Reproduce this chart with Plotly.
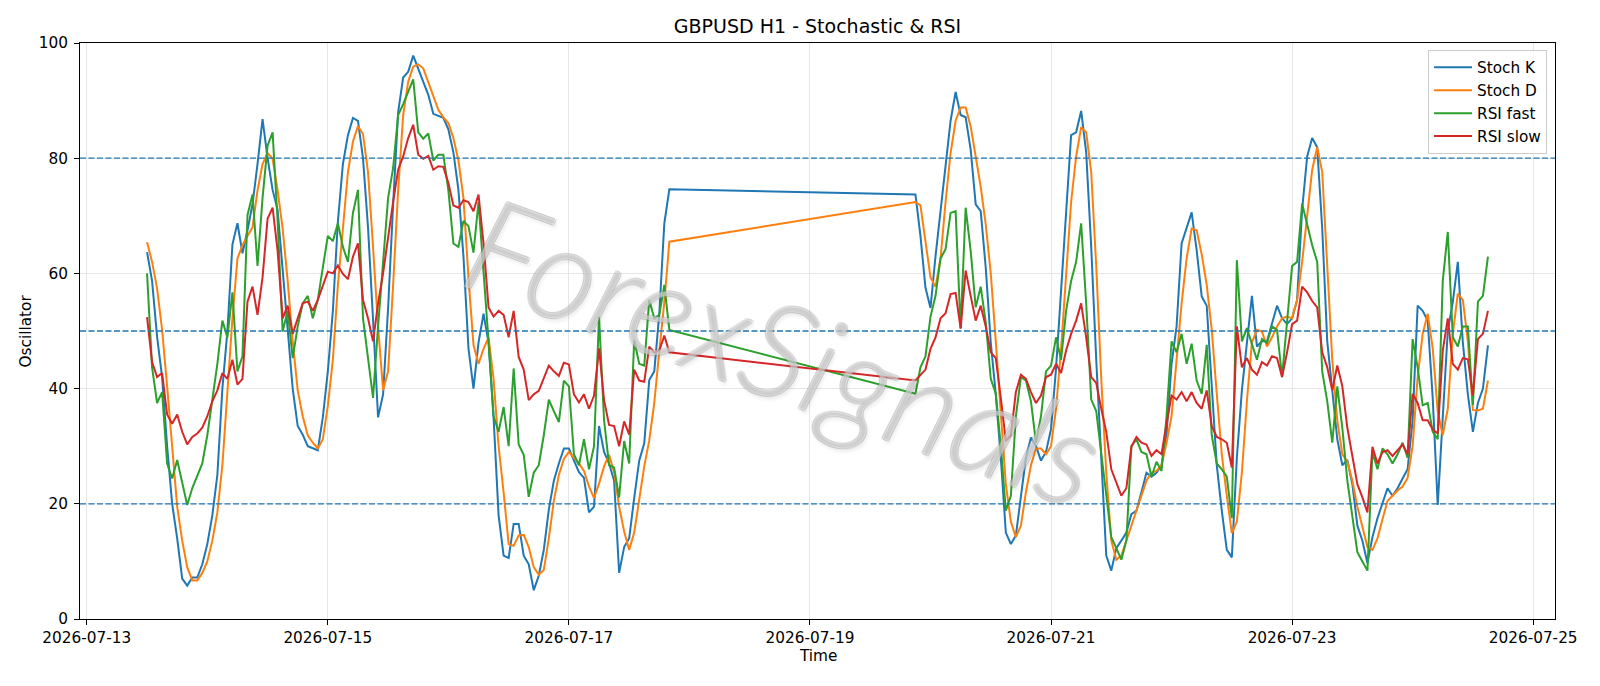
import pandas as pd
import plotly.graph_objects as go

# ---- time axis: hourly bars, weekend gap ----
seg1_start = "2026-07-13 12:00"
seg2_start = "2026-07-19 21:00"

# ---- Stochastic K ----
stoch_k_1 = [63.7, 58.7, 49, 42, 30, 20, 14, 7, 5.8, 7.2, 7.2, 9.5, 13, 18, 25, 40, 50, 65, 68.7, 63.5,
             67.5, 72, 79, 86.8, 80, 74.5, 71, 61, 50, 40, 33.5, 32, 30, 29.6, 29.3, 35, 43,
             53.5, 69, 79, 84, 87, 86.5, 80, 68, 52, 35, 39, 54, 72, 88, 94, 95, 97.8, 95.5, 93, 91,
             87.7, 87.4, 87, 85, 81, 74.5, 63, 47, 40, 48, 53, 48, 35, 18, 11, 10.6,
             16.5, 16.5, 11, 9.5, 5, 7.5, 12, 19, 24, 27, 29.6, 29.6, 27.5, 25.5, 24.5, 18.5, 19.5,
             33.5, 29, 27, 24, 8, 12.5, 14, 21, 27.5, 30.5, 41.5, 43, 53, 68.7, 74.6]
stoch_k_2 = [73.7, 66.5, 57.5, 54, 63, 71, 79, 86.5, 91.5, 87.5, 87.1, 81.5, 72, 70.8, 61, 48, 39, 28,
             15, 13, 14.5, 21, 28, 31.5, 30, 27.5, 29, 33, 43.5, 57, 70, 84, 84.5, 88.2,
             81, 64.6, 45, 27.3, 11, 8.4, 12.3, 13.6, 15, 18.2, 18.8, 22, 25.4, 24.7, 25.4, 26.7, 32,
             44.3, 50.8, 65.2, 67.8, 70.6, 64, 56, 54.4, 40.4, 26.7, 18.8, 12, 10.7, 28, 39.7, 48.2,
             56.1, 47.3,
             48.2, 48.2, 51.5, 54.4, 52.2, 51.2, 52.2, 55.4, 71.1, 80.3, 83.5, 81.9, 67.8, 48.2, 39.7,
             31.2, 26.7, 27.6, 23.4, 16.2, 13.6, 9.7, 14.2, 17.5, 20.1, 22.7, 21.4, 22.7, 24.4, 26,
             34.5, 54.4, 53.5, 51.8, 38.4, 19.8, 35, 50, 55, 62, 48, 39, 32.5, 37.5, 40, 47.5]

# ---- Stochastic D ----
stoch_d_1 = [65.4, 62, 57.4, 50.2, 40.4, 29.3, 19.5, 13.6, 9, 6.7, 6.7, 8, 10, 13.6, 18.5, 26.7, 39.7,
             52.2, 62.6, 64.9, 66.5, 68, 74.4, 79, 80.9, 79.9, 74.4, 67.8, 58.7, 48.2, 39.7, 35.2, 31.9,
             30.6, 29.6, 31.2, 37,
             45, 58, 67.8, 77.6, 82.9, 85.6, 84.2, 77.6, 64.6, 50.8, 39.7, 43, 58, 74.4, 87.5, 93.3,
             95.9, 96.3, 95.6, 93.3, 90.7, 88.4, 87.1, 86.1, 83.5, 79.6, 73.1, 59.3, 47.6, 44.3, 46.9,
             48.9, 41.7, 30, 22, 13,
             12.7, 14.5, 14.6, 12.5, 9, 7.7, 8.5, 14, 20.5, 25, 27.8, 29, 28, 27, 25.7, 23, 21, 23.5,
             26.5, 28.5, 25.5, 19.5, 15.2, 12, 15, 20.5, 26.5, 31, 37.5, 46.5, 55, 65.5]
stoch_d_2 = [72.4, 71.8, 65.2, 59.3, 57.7, 62.6, 72.4, 80.9, 86.5, 88.8, 88.8, 85.5, 80.3, 75, 68.5, 60,
             48.2, 35.2, 23.4, 16.9, 14.2, 16.2, 22, 26.7, 29.6, 29.6, 28.6, 30, 36.5, 46.9, 60, 72.4,
             80.3, 85.4,
             84.5, 77.6, 61.3, 41.7, 25.4, 13.6, 10.3, 11, 13.6, 16.2, 18.8, 21.4, 24, 25.4, 25.7, 26.7,
             30.6, 35.2, 45, 54.8, 62.6, 67.8, 67.5, 63.3, 58, 50.2, 39.1, 28.6, 21.4, 14.9, 16.9, 25.4,
             37.8, 48, 50.2,
             49.9, 47.3, 48.9, 50.8, 52.2, 52.5, 52.2, 55.4, 62, 70, 78, 81.9, 77.6, 61.3, 45, 34.5,
             28.6, 27.3, 24, 19.5, 16.2, 12.5, 12, 14, 17.3, 20.5, 21.4, 22.3, 23, 24.5, 30, 42, 49.5,
             53, 47, 36, 31.9, 36.5, 49.5, 56.5, 55.4, 48.2, 36.3, 36.2, 36.5, 41.4]

# ---- RSI fast ----
rsi_fast_1 = [60, 43.7, 37.5, 39.4, 27, 24.4, 27.6, 23.7, 19.8, 22.7, 24.7, 27, 31.9, 38.4, 44.3, 51.8,
              48.9, 56.7, 43, 45.6, 70.1, 73.7, 61.3, 73.1, 82.2, 84.5, 69.1, 49.9, 53.5, 45.3, 50.8,
              54.8, 56.1, 52.2, 55.4, 61, 66.5,
              65.6, 68.7, 64.6, 62, 70.5, 74.5, 52.2, 45, 38.4, 50.8, 61.3, 73.1, 78.3, 87.5, 89.4,
              91.4, 93.7, 84.5, 83.4, 84.3, 79.6, 80.6, 80.6, 74.4, 65.2, 64.6, 69.1, 68.2, 63.6, 72.4,
              60.7, 48.2, 35.2, 32.5, 36.8, 30,
              43.5, 30.3, 28.5, 21.2, 25.4, 26.7, 31.9, 38.1, 36.1, 34.2, 41.4, 40.4, 28.6, 26.7, 31.2,
              26, 30, 52.5, 34.5, 26.7, 26.3, 21.1, 30.9, 27, 48.4, 44.3, 44, 55.4, 52.2, 52.8, 58, 50.2]
rsi_fast_2 = [39.1, 43.7, 45.6, 52.5, 56.1, 62.6, 64.2, 70.5, 70.8, 50.5, 71.4, 63.9, 54.1, 57.7, 51.5,
              41.7, 39.1, 30, 18.8, 21.4, 35.2, 42, 41.4, 37.8, 30.6, 35.2, 43, 44, 48.9, 45, 53.5, 58.7,
              62, 68.7,
              54.8, 38.1, 36.1, 28.6, 22, 14.2, 12.3, 10.3, 13.6, 30, 31.2, 29, 28.6, 24.7, 27.3, 25.7,
              35.2, 48.2, 46.3, 49.5, 44.3, 47.8, 41.4, 39.1, 47.6, 31.9, 27, 26, 24.7, 17.5, 62.3, 48.2,
              50.5, 47.6, 45,
              48.6, 47.9, 50.8, 50.2, 42, 51, 61.3, 62, 72.1, 68.5, 64.9, 62, 43, 37.8, 30.6, 40.4, 33.2,
              24, 17.5, 11.6, 10, 8.4, 29, 26, 29.6, 28.6, 27, 28.6, 30.6, 28, 48.6, 43.7, 37.1, 37.5,
              32.5, 31.2, 58.7, 67.2, 48.9, 47.3, 50.8, 50.8, 37.1, 55.1, 56.1, 62.9]

# ---- RSI slow ----
rsi_slow_1 = [52.4, 44.6, 42, 42.7, 35.5, 33.9, 35.5, 32.5, 30.3, 31.6, 32.2, 33.2, 35.2, 37.8, 39.7,
              42.7, 41.7, 45, 40.7, 41.7, 55.1, 57.7, 52.8, 59.3, 69.5, 71.4, 63.9, 52.2, 54.4, 49.5,
              52.2, 54.8, 55.1, 53.5, 55.4, 57.7, 60.3,
              60, 61.4, 59.9, 59, 62.9, 65.2, 55.4, 52.2, 48.2, 54.8, 60, 66.5, 72.4, 78, 80.3, 83.5,
              85.8, 80.6, 79.9, 80.4, 78, 78.6, 78.5, 75.7, 71.8, 71.4, 72.7, 72.4, 70.8, 73.7, 65.2,
              54.1, 52.5, 53.5, 52.8, 48.9,
              53.5, 45.5, 43.3, 38, 39, 39.6, 41.8, 44, 43, 42.2, 44.5, 44.2, 39, 37.6, 39, 36.5, 38.8,
              47, 38, 33.7, 33.5, 30, 34.3, 32, 43.3, 41.4, 41.2, 47.3, 46.3, 46.6, 49.2, 46.3]
rsi_slow_2 = [41.4, 42.4, 43.3, 46.9, 48.9, 52.2, 53.1, 56.4, 56.6, 50.4, 60.5, 56.1, 51.8, 54.4, 50.8,
              46.3, 45.3, 38.4, 30.9, 31.9, 39.4, 42.4, 41.7, 39.4, 37.5, 38.8, 42, 42.4, 44.3, 42.7,
              46.6, 49.5, 51.8, 54.8,
              48.9, 42, 41, 36.5, 32.5, 26, 23.7, 21.4, 22.7, 29.9, 31.6, 30.6, 30.3, 28.3, 29.3, 28.6,
              33.9, 38.8, 38.1, 39.4, 37.8, 39.4, 37.5, 36.5, 39.7, 33.5, 31.6, 31.2, 30.6, 26.3, 50.8,
              43.7, 45.3, 43.3, 42.4,
              44.6, 44, 45.6, 45.3, 42, 46.3, 51.2, 51.8, 57.7, 56.7, 55.2, 54.1, 46.3, 43.7, 39.7, 44,
              40.4, 33.2, 28, 23.4, 21.1, 18.5, 29.9, 27, 29, 29.3, 28.3, 29.3, 30.3, 28.6, 39.1, 37.5,
              34.5, 34.5, 32.9, 32.2, 46.6, 52.2, 44.3, 43.3, 45.3, 45.1, 38.8, 48.6, 49.5, 53.5]

levels = [20, 50, 80]
series_names = ["Stoch K", "Stoch D", "RSI fast", "RSI slow"]
colors = ["#1f77b4", "#ff7f0e", "#2ca02c", "#d62728"]

n1, n2 = len(stoch_k_1), len(stoch_k_2)
for a, b in [(stoch_d_1, stoch_d_2), (rsi_fast_1, rsi_fast_2), (rsi_slow_1, rsi_slow_2)]:
    assert len(a) == n1 and len(b) == n2, (len(a), len(b), n1, n2)

times = list(pd.date_range(seg1_start, periods=n1, freq="h")) + \
        list(pd.date_range(seg2_start, periods=n2, freq="h"))
series = [stoch_k_1 + stoch_k_2, stoch_d_1 + stoch_d_2,
          rsi_fast_1 + rsi_fast_2, rsi_slow_1 + rsi_slow_2]

fig = go.Figure()
for name, vals, col in zip(series_names, series, colors):
    fig.add_trace(go.Scatter(x=times, y=vals, mode="lines", name=name,
                             line=dict(color=col, width=2)))

for lv in levels:
    fig.add_shape(type="line", xref="paper", x0=0, x1=1, yref="y", y0=lv, y1=lv,
                  line=dict(color="#1f77b4", width=1.3, dash="6px,2.5px"))

span = times[-1] - times[0]
pad = span * 0.05
font_family = "DejaVu Sans"
fs = 15.3

fig.update_layout(
    width=1600, height=686,
    margin=dict(l=80, r=45, t=43, b=67),
    paper_bgcolor="white", plot_bgcolor="white",
    font=dict(family=font_family, size=fs, color="black"),
    title=dict(text="GBPUSD H1 - Stochastic & RSI", x=0.5, xref="paper",
               y=1 - 26.5 / 686, yref="container", yanchor="middle",
               font=dict(size=19, color="black")),
    showlegend=True,
    legend=dict(x=0.9946, y=0.988, xanchor="right", yanchor="top",
                bgcolor="rgba(255,255,255,0.8)", bordercolor="#cccccc", borderwidth=1,
                font=dict(size=fs), itemwidth=38),
    xaxis=dict(type="date", range=[times[0] - pad, times[-1] + pad],
               tick0="2026-07-13", dtick=2 * 86400000, tickformat="%Y-%m-%d",
               showgrid=True, gridcolor="#e6e6e6", gridwidth=1,
               showline=True, linecolor="black", linewidth=1, mirror=True,
               ticks="outside", ticklen=5, tickcolor="black", tickwidth=1,
               zeroline=False, tickfont=dict(size=fs)),
    yaxis=dict(range=[0, 100], tickvals=[0, 20, 40, 60, 80, 100],
               showgrid=True, gridcolor="#e6e6e6", gridwidth=1,
               showline=True, linecolor="black", linewidth=1, mirror=True,
               ticks="outside", ticklen=5, tickcolor="black", tickwidth=1,
               zeroline=False, tickfont=dict(size=fs), ticklabelstandoff=3),
)

fig.add_annotation(text="Time", xref="paper", yref="paper", x=0.5, y=-37 / 576,
                   xanchor="center", yanchor="middle", showarrow=False,
                   font=dict(size=fs))
fig.add_annotation(text="Oscillator", xref="paper", yref="paper", x=(25.5 - 80) / 1475, y=0.5,
                   xanchor="center", yanchor="middle", textangle=-90, showarrow=False,
                   font=dict(size=fs))
# watermark: outlined light letters with a soft shadow
outline = "rgba(140,140,140,0.6)"
fig.add_annotation(text="ForexSignals", xref="paper", yref="paper", x=0.478, y=0.47,
                   xanchor="center", yanchor="middle", textangle=20, showarrow=False,
                   font=dict(family="Lato", size=133, weight=300, style="italic",
                             color="rgba(255,255,255,0.4)",
                             shadow=(f"1px 1px 0 {outline}, -1px -1px 0 {outline}, "
                                     f"1px -1px 0 {outline}, -1px 1px 0 {outline}, "
                                     "3px 3px 4px rgba(0,0,0,0.18)")))

fig.write_html("out.html")
